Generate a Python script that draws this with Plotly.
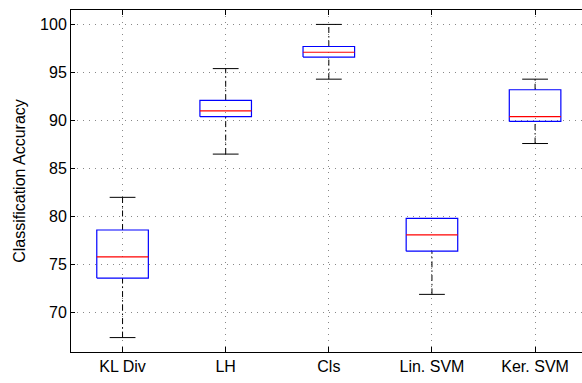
import plotly.graph_objects as go
import numpy as np

categories = ["KL Div", "LH", "Cls", "Lin. SVM", "Ker. SVM"]
lower_whisker = [67.4, 86.5, 94.3, 71.9, 87.6]
q1 = [73.6, 90.4, 96.6, 76.4, 89.9]
median = [75.8, 91.0, 97.1, 78.1, 90.4]
q3 = [78.6, 92.1, 97.7, 79.8, 93.2]
upper_whisker = [82.0, 95.4, 100.0, 79.8, 94.3]
y_ticks = [70, 75, 80, 85, 90, 95, 100]

positions = np.arange(1, len(categories) + 1)
box_half = 0.25
cap_half = 0.125

fig = go.Figure()

# whiskers (dash-dot black)
wx, wy = [], []
for p, lo, a, b, hi in zip(positions, lower_whisker, q1, q3, upper_whisker):
    wx += [p, p, None, p, p, None]
    wy += [lo, a, None, b, hi, None]
fig.add_trace(go.Scatter(x=wx, y=wy, mode="lines",
                         line=dict(color="black", width=1, dash="6px,3px,1.5px,3px"),
                         hoverinfo="skip", showlegend=False))
# caps
cx, cy = [], []
for p, lo, hi in zip(positions, lower_whisker, upper_whisker):
    cx += [p - cap_half, p + cap_half, None, p - cap_half, p + cap_half, None]
    cy += [lo, lo, None, hi, hi, None]
fig.add_trace(go.Scatter(x=cx, y=cy, mode="lines",
                         line=dict(color="black", width=1),
                         hoverinfo="skip", showlegend=False))
# boxes
bx, by = [], []
for p, a, b in zip(positions, q1, q3):
    bx += [p - box_half, p + box_half, p + box_half, p - box_half, p - box_half, None]
    by += [a, a, b, b, a, None]
fig.add_trace(go.Scatter(x=bx, y=by, mode="lines",
                         line=dict(color="#0000ff", width=1.2),
                         hoverinfo="skip", showlegend=False))
# medians
mx, my = [], []
for p, m in zip(positions, median):
    mx += [p - box_half, p + box_half, None]
    my += [m, m, None]
fig.add_trace(go.Scatter(x=mx, y=my, mode="lines",
                         line=dict(color="#ff0000", width=1.2),
                         hoverinfo="skip", showlegend=False))

font = dict(family="Liberation Sans, Arial, sans-serif", size=16, color="black")

fig.update_layout(
    width=582, height=383,
    margin=dict(l=71, r=0, t=10, b=31),
    paper_bgcolor="white", plot_bgcolor="white",
    font=font,
    showlegend=False,
    xaxis=dict(
        range=[0.5, 5.455],
        tickvals=list(positions), ticktext=categories,
        ticks="inside", ticklen=5, tickwidth=1, tickcolor="black",
        showline=True, linecolor="black", linewidth=1, mirror="ticks",
        showgrid=True, gridcolor="#888888", gridwidth=1, griddash="1px,5px",
        zeroline=False, tickfont=font,
    ),
    yaxis=dict(
        range=[65.9, 101.5],
        tickvals=y_ticks,
        ticks="inside", ticklen=4, tickwidth=1, tickcolor="black",
        showline=True, linecolor="black", linewidth=1, mirror=False,
        showgrid=True, gridcolor="#888888", gridwidth=1, griddash="1px,5px",
        zeroline=False, tickfont=font,
        title=dict(text="Classification Accuracy", font=font, standoff=10),
    ),
)

fig.write_html("out.html")
